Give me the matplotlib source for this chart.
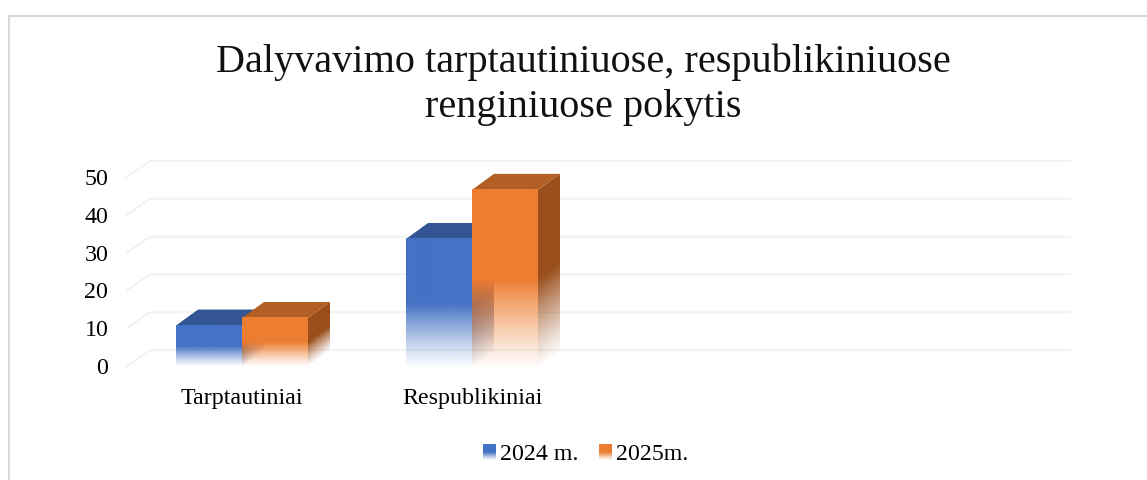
import numpy as np
import matplotlib
matplotlib.use("Agg")
import matplotlib.pyplot as plt
from matplotlib.colors import to_rgb
from matplotlib.lines import Line2D
from matplotlib.patches import Polygon

plt.rcParams['font.family'] = ['Liberation Serif', 'DejaVu Sans']

TITLE = "Dalyvavimo tarptautiniuose, respublikiniuose\nrenginiuose pokytis"
categories = ["Tarptautiniai", "Respublikiniai"]
series_names = ["2024 m.", "2025m."]
values_2024 = [10.7, 33.6]
values_2025 = [12.7, 46.6]
y_ticks = [0, 10, 20, 30, 40, 50]

BLUE, BLUE_TOP, BLUE_SIDE = "#4472C4", "#335593", "#2A4C8A"
ORANGE, ORANGE_TOP, ORANGE_SIDE = "#ED7D31", "#B35E25", "#9A4F1C"
GRID = "#F2F2F2"

W, H = 1147, 480
BAR_W = 66 / 230
DX, DY = 22 / 230, 16 / 3.78   # depth of the fake 3d, in data units


def fade(frac):
    # opaque on the upper half of the bar, almost gone at the floor
    return np.clip(0.06 + 0.94 * frac / 0.49, 0, 1) ** 1.2


def front_face(ax, x0, h, color):
    frac = np.linspace(1, 0, 128)
    img = np.ones((128, 1, 4))
    img[..., :3] = to_rgb(color)
    img[:, 0, 3] = fade(frac)
    ax.imshow(img, extent=(x0, x0 + BAR_W, 0, h), aspect="auto", zorder=3, interpolation="bilinear")


def side_face(ax, x0, h, color):
    xr = x0 + BAR_W
    t = np.linspace(0, 1, 40)
    ys = np.linspace(h + DY, 0, 200)
    img = np.ones((200, 40, 4))
    img[..., :3] = to_rgb(color)
    for j, tt in enumerate(t):
        img[:, j, 3] = fade((ys - tt * DY) / h)
    im = ax.imshow(img, extent=(xr, xr + DX, 0, h + DY), aspect="auto", zorder=3, interpolation="bilinear")
    clip = Polygon([(xr, 0), (xr + DX, DY), (xr + DX, h + DY), (xr, h)], transform=ax.transData)
    im.set_clip_path(clip)


def bar3d(ax, x0, h, front, top, side):
    side_face(ax, x0, h, side)
    ax.add_patch(Polygon([(x0, h), (x0 + DX, h + DY), (x0 + BAR_W + DX, h + DY), (x0 + BAR_W, h)],
                         facecolor=top, edgecolor="none", zorder=3))
    front_face(ax, x0, h, front)


fig = plt.figure(figsize=(W / 100, H / 100), dpi=100)
# chart frame, only top and left are inside the crop
fig.add_artist(Line2D([9 / W, 9 / W, 1], [0, 1 - 15.5 / H, 1 - 15.5 / H], color="#D9D9D9", lw=1.5))

# axes box in pixels: floor front-left corner at (127, 366)
ax = fig.add_axes([127 / W, (H - 366) / H, (1070 - 127) / W, 226.8 / H])
ax.patch.set_alpha(0)
for s in ax.spines.values():
    s.set_visible(False)

# gridlines on the back wall plus the slanted bit on the left wall
for v in y_ticks:
    ax.plot([-0.5, -0.5 + 23 / 230, 3.5 + 23 / 230], [v, v + DY, v + DY], color=GRID, lw=1.5, zorder=1, clip_on=False)

for i in range(len(categories)):
    bar3d(ax, i - BAR_W, values_2024[i], BLUE, BLUE_TOP, BLUE_SIDE)
    bar3d(ax, i, values_2025[i], ORANGE, ORANGE_TOP, ORANGE_SIDE)

ax.set_xlim(-0.5, 3.6)
ax.set_ylim(0, 60)
ax.set_yticks(y_ticks)
ax.set_xticks(range(len(categories)))
ax.set_xticklabels(categories)
ax.tick_params(axis="y", length=0, pad=13.5, labelsize=17.3, labelcolor="black")
ax.tick_params(axis="x", length=0, pad=16, labelsize=17.3, labelcolor="black")

fig.text(583 / W, 1 - 85 / H, TITLE, ha="center", va="center", fontsize=29, color="#111111", linespacing=1.27)

# legend
legend_x = [483, 599]
legend_colors = [BLUE, ORANGE]
for name, px, col in zip(series_names, legend_x, legend_colors):
    a = fig.add_axes([px / W, (H - 460) / H, 13 / W, 16 / H])
    a.axis("off")
    img = np.ones((64, 1, 4))
    img[..., :3] = to_rgb(col)
    img[:, 0, 3] = fade(np.linspace(1, 0, 64))
    a.imshow(img, aspect="auto", interpolation="bilinear")
    fig.text((px + 17) / W, 1 - 455 / H, name, ha="left", va="center", fontsize=17.2, color="black")

fig.savefig("out.png", dpi=100)
